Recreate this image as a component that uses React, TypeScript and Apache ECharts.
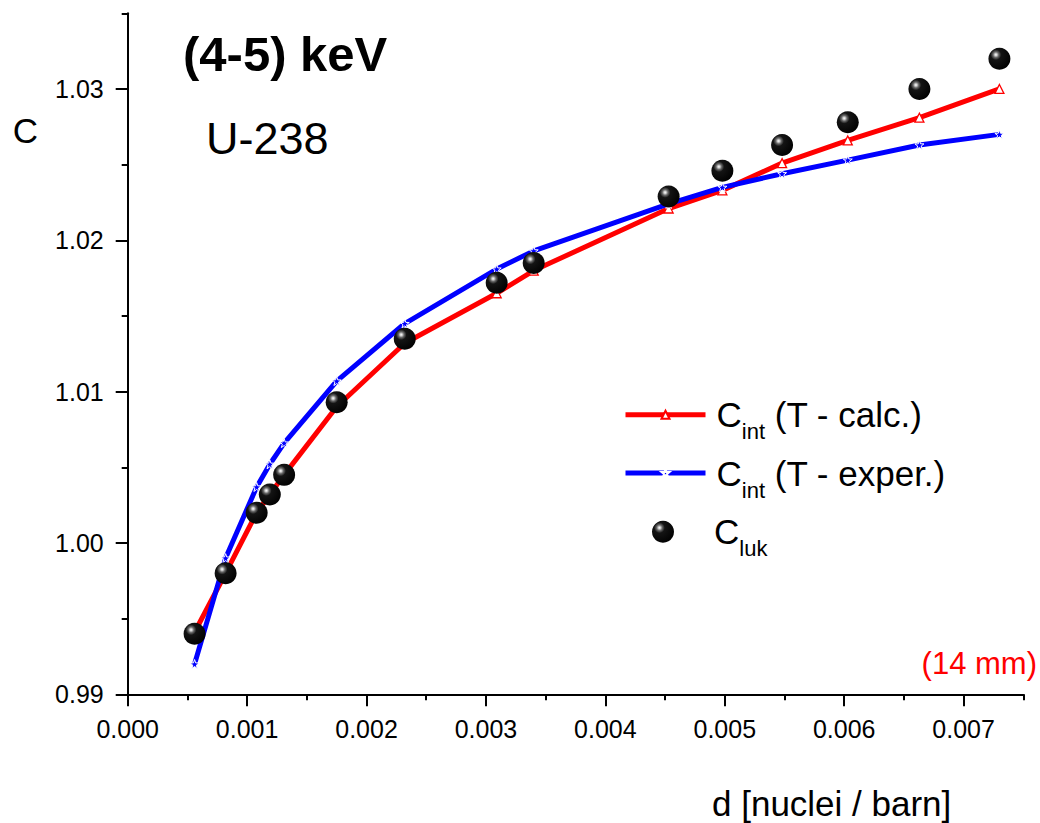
import React, { useEffect, useRef } from "react";
import * as echarts from "echarts";

// thickness d [nuclei / barn]
const dValues = [0.00056, 0.00082, 0.00108, 0.00119, 0.00131, 0.00175, 0.00232, 0.00309, 0.0034, 0.00453, 0.00498, 0.00548, 0.00603, 0.00663, 0.0073];
// C_int (T - calc.)
const cIntCalc = [0.9941, 0.998, 1.002, 1.0032, 1.0045, 1.009, 1.0132, 1.0165, 1.018, 1.0221, 1.0233, 1.0251, 1.0266, 1.0281, 1.03];
// C_int (T - exper.)
const cIntExper = [0.992, 0.999, 1.0037, 1.0052, 1.0066, 1.0107, 1.0145, 1.0181, 1.0193, 1.0224, 1.0235, 1.0244, 1.0253, 1.0263, 1.027];
// C_luk
const cLuk = [0.994, 0.998, 1.002, 1.0032, 1.0045, 1.0093, 1.0135, 1.0172, 1.0185, 1.0229, 1.0246, 1.0263, 1.0278, 1.03, 1.032];

const xMajorTicks = [0, 0.001, 0.002, 0.003, 0.004, 0.005, 0.006, 0.007];
const xMinorTicks = [0.0005, 0.0015, 0.0025, 0.0035, 0.0045, 0.0055, 0.0065, 0.0075];
const yMajorTicks = [0.99, 1.0, 1.01, 1.02, 1.03];
const yMinorTicks = [0.995, 1.005, 1.015, 1.025, 1.035];

const NAME_CALC = "C_int (T - calc.)";
const NAME_EXPER = "C_int (T - exper.)";
const NAME_LUK = "C_luk";

const FONT = "'Liberation Sans', Arial, sans-serif";
const STAR = "path://M0,-10 L2.35,-3.24 L9.51,-3.09 L3.8,1.24 L5.88,8.09 L0,4 L-5.88,8.09 L-3.8,1.24 L-9.51,-3.09 L-2.35,-3.24 Z";

export default function App() {
  const ref = useRef<HTMLDivElement>(null);

  useEffect(() => {
    if (!ref.current) return;
    const chart = echarts.init(ref.current, null, { renderer: "svg" });

    const ballColor = new echarts.graphic.RadialGradient(0.34, 0.32, 0.75, [
      { offset: 0, color: "#ffffff" },
      { offset: 0.07, color: "#d0d0d0" },
      { offset: 0.17, color: "#6a6a6a" },
      { offset: 0.32, color: "#141414" },
      { offset: 1, color: "#000000" },
    ]);

    const richText = (pad: number) => ({
      c: { fontSize: 35, lineHeight: 56, padding: [0, 0, 0, pad], fontFamily: FONT, color: "#000" },
      m: { fontSize: 35, lineHeight: 56, fontFamily: FONT, color: "#000" },
      s: { fontSize: 22, lineHeight: 22, verticalAlign: "bottom", fontFamily: FONT, color: "#000" },
    });
    const legendFormatter = (name: string) => {
      if (name === NAME_CALC) return "{c|C}{s|int}{m| (T - calc.)}";
      if (name === NAME_EXPER) return "{c|C}{s|int}{m| (T - exper.)}";
      return "{c|C}{s|luk}";
    };

    const axisCommon = {
      min: 0,
      max: 0.0075,
      type: "value" as const,
      position: "bottom" as const,
      splitLine: { show: false },
    };
    const yCommon = {
      min: 0.99,
      max: 1.035,
      type: "value" as const,
      position: "left" as const,
      splitLine: { show: false },
    };

    chart.setOption({
      animation: false,
      backgroundColor: "#ffffff",
      textStyle: { fontFamily: FONT },
      grid: { left: 127.7, right: 16.7, top: 13.3, bottom: 128.7, containLabel: false },
      xAxis: [
        {
          ...axisCommon,
          axisLine: { show: true, onZero: false, lineStyle: { color: "#000", width: 2 } },
          axisTick: { show: true, inside: false, length: 12, lineStyle: { color: "#000", width: 2 }, customValues: xMajorTicks },
          axisLabel: {
            show: true,
            customValues: xMajorTicks,
            margin: 22,
            fontSize: 25,
            color: "#000",
            fontFamily: FONT,
            formatter: (v: number) => v.toFixed(3),
          },
        },
        {
          ...axisCommon,
          axisLine: { show: false, onZero: false },
          axisTick: { show: true, inside: false, length: 6, lineStyle: { color: "#000", width: 2 }, customValues: xMinorTicks },
          axisLabel: { show: false },
        },
      ],
      yAxis: [
        {
          ...yCommon,
          axisLine: { show: true, onZero: false, lineStyle: { color: "#000", width: 2 } },
          axisTick: { show: true, inside: false, length: 12, lineStyle: { color: "#000", width: 2 }, customValues: yMajorTicks },
          axisLabel: {
            show: true,
            customValues: yMajorTicks,
            margin: 24,
            fontSize: 25,
            color: "#000",
            fontFamily: FONT,
            formatter: (v: number) => v.toFixed(2),
          },
        },
        {
          ...yCommon,
          axisLine: { show: false, onZero: false },
          axisTick: { show: true, inside: false, length: 6, lineStyle: { color: "#000", width: 2 }, customValues: yMinorTicks },
          axisLabel: { show: false },
        },
      ],
      legend: [
        {
          data: [NAME_CALC, NAME_EXPER],
          orient: "vertical",
          left: 623,
          top: 397.2,
          padding: 0,
          itemGap: 12.8,
          itemWidth: 80,
          itemHeight: 10,
          lineStyle: { width: 5 },
          formatter: legendFormatter,
          textStyle: { rich: richText(6) },
          selectedMode: false,
        },
        {
          data: [{ name: NAME_LUK, icon: "circle" }],
          orient: "vertical",
          left: 652,
          top: 514.2,
          padding: 0,
          itemWidth: 22,
          itemHeight: 22,
          formatter: legendFormatter,
          textStyle: { rich: richText(35) },
          selectedMode: false,
        },
      ],
      series: [
        {
          name: NAME_CALC,
          type: "line",
          xAxisIndex: 0,
          yAxisIndex: 0,
          data: dValues.map((d, i) => [d, cIntCalc[i]]),
          lineStyle: { color: "#ff0000", width: 5 },
          symbol: "triangle",
          symbolSize: 9,
          showSymbol: true,
          itemStyle: { color: "#ffffff", borderColor: "#ff0000", borderWidth: 1.3 },
          z: 2,
        },
        {
          name: NAME_EXPER,
          type: "line",
          xAxisIndex: 0,
          yAxisIndex: 0,
          data: dValues.map((d, i) => [d, cIntExper[i]]),
          lineStyle: { color: "#0000ff", width: 5 },
          symbol: STAR,
          symbolSize: 9,
          showSymbol: true,
          itemStyle: { color: "#0000ff", borderColor: "#ffffff", borderWidth: 1 },
          z: 3,
        },
        {
          name: NAME_LUK,
          type: "scatter",
          xAxisIndex: 0,
          yAxisIndex: 0,
          data: dValues.map((d, i) => [d, cLuk[i]]),
          symbol: "circle",
          symbolSize: 22,
          itemStyle: { color: ballColor, opacity: 1 },
          z: 4,
        },
      ],
      graphic: [
        {
          type: "text",
          x: 183,
          y: 54,
          style: { text: "(4-5) keV", fontSize: 49, fontWeight: "bold", fontFamily: FONT, fill: "#000", align: "left", verticalAlign: "middle" },
        },
        {
          type: "text",
          x: 206,
          y: 138,
          style: { text: "U-238", fontSize: 45, fontFamily: FONT, fill: "#000", align: "left", verticalAlign: "middle" },
        },
        {
          type: "text",
          x: 25.5,
          y: 130,
          style: { text: "C", fontSize: 35, fontFamily: FONT, fill: "#000", align: "center", verticalAlign: "middle" },
        },
        {
          type: "text",
          x: 712,
          y: 803,
          style: { text: "d [nuclei / barn]", fontSize: 35, fontFamily: FONT, fill: "#000", align: "left", verticalAlign: "middle" },
        },
        {
          type: "text",
          x: 1037,
          y: 663,
          style: { text: "(14 mm)", fontSize: 31, fontFamily: FONT, fill: "#ff0000", align: "right", verticalAlign: "middle" },
        },
      ],
    });

    return () => chart.dispose();
  }, []);

  return (
    <div
      ref={ref}
      style={{ position: "absolute", left: 0, top: 0, width: 1040, height: 823, background: "#fff" }}
    />
  );
}
